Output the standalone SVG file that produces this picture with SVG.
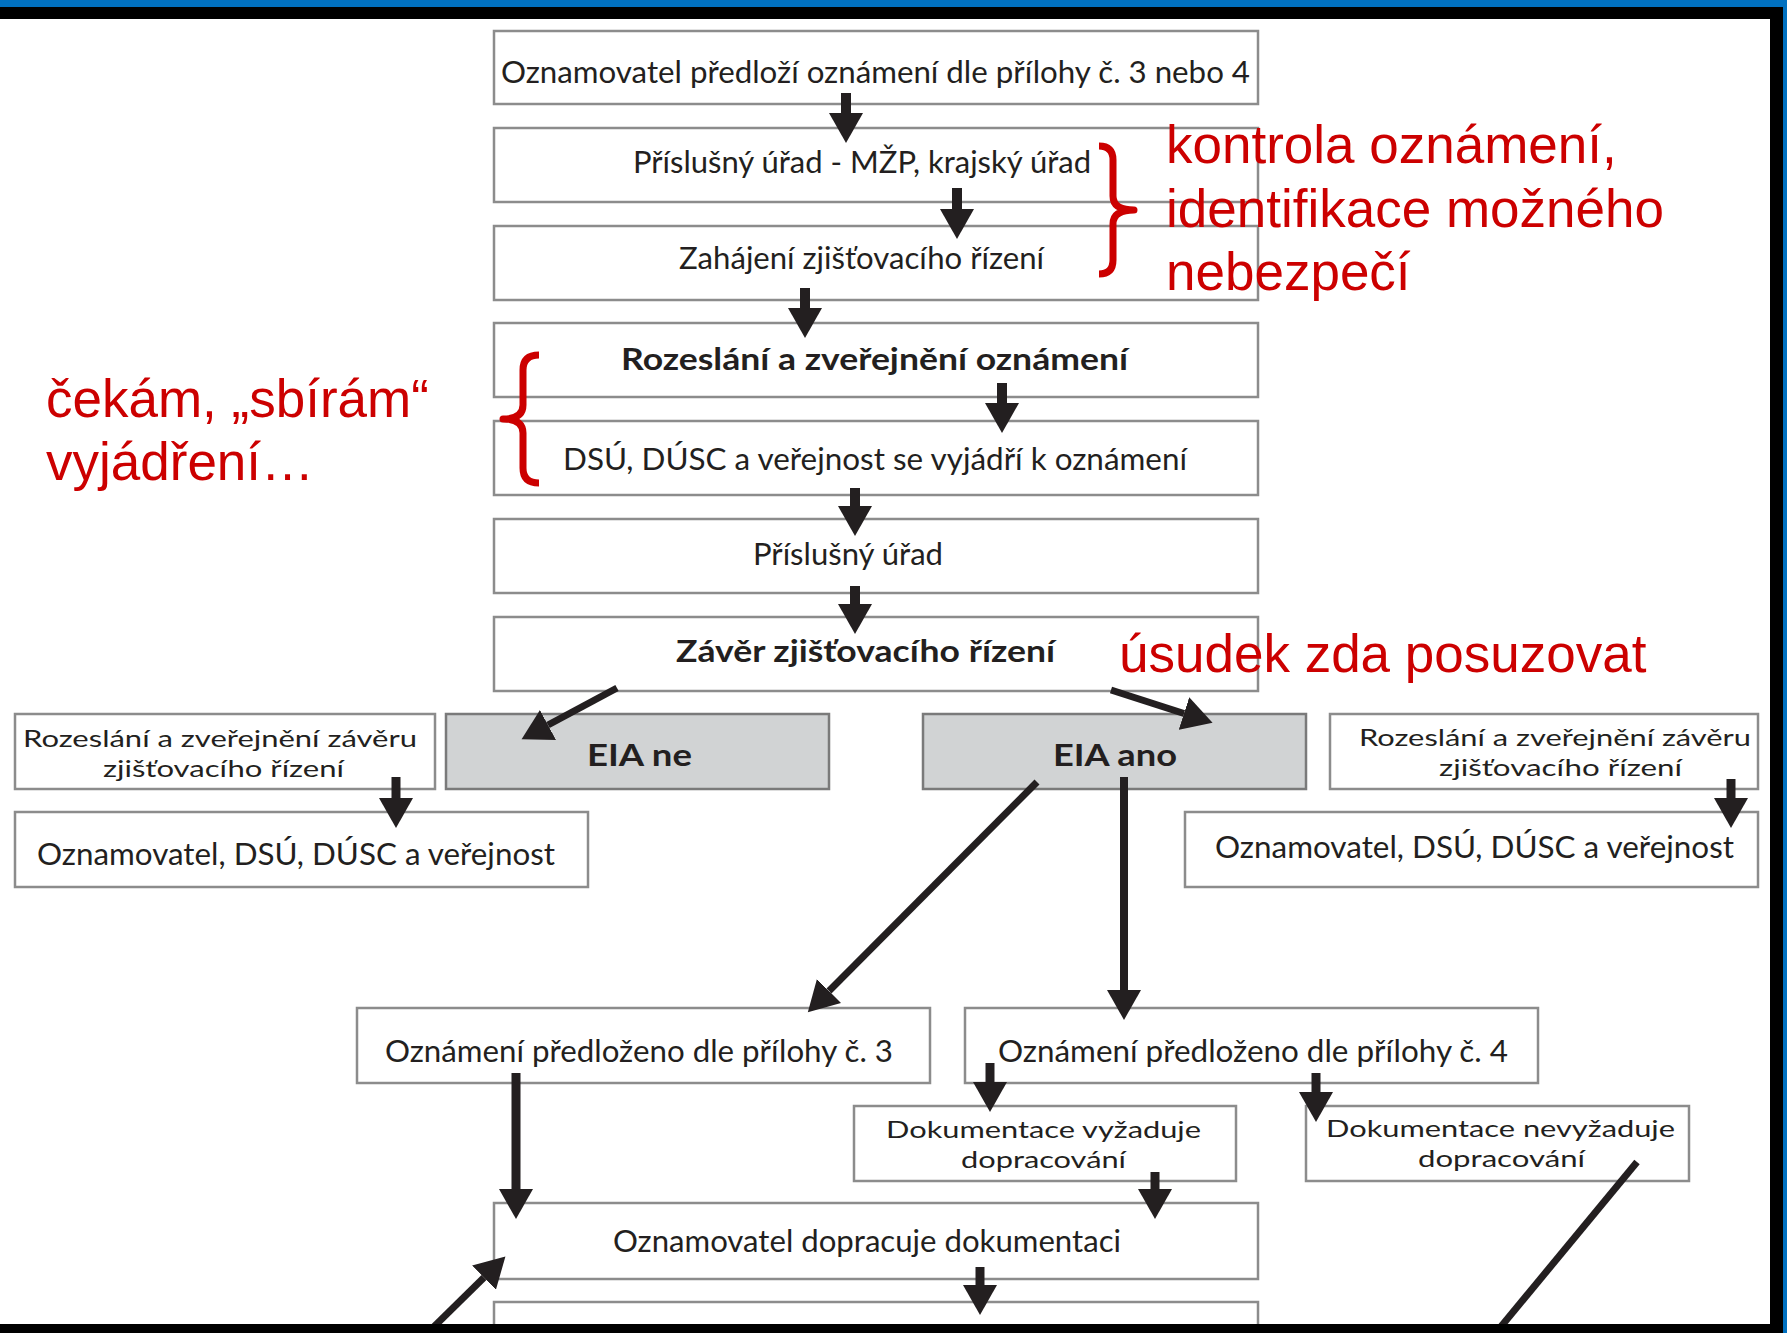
<svg xmlns="http://www.w3.org/2000/svg" width="1787" height="1333" viewBox="0 0 1787 1333">
<style>
.box{fill:#ffffff;stroke:#8c8c8c;stroke-width:2.5}
.grey{fill:#d1d3d4;stroke:#7a7a7a;stroke-width:2.5}
.t{font-family:Lato,"Open Sans","Liberation Sans",sans-serif;font-size:30px;fill:#231f20}
.t2{font-family:Lato,"Open Sans","Liberation Sans",sans-serif;font-size:24px;fill:#231f20}
.b{font-weight:bold}
.red{font-family:"Liberation Sans",Arial,sans-serif;font-size:53px;fill:#cc0000}
.brace{fill:none;stroke:#cc0000;stroke-width:7;stroke-linecap:butt;stroke-linejoin:round}
.ar{stroke:#231f20;fill:none;marker-end:url(#ah)}
</style>
<defs>
<marker id="ah" markerUnits="userSpaceOnUse" markerWidth="34" markerHeight="34" refX="0" refY="17" orient="auto">
<path d="M0,0 L30,17 L0,34 Z" fill="#231f20"/>
</marker>
</defs>
<rect x="0" y="0" width="1787" height="1333" fill="#ffffff"/>

<g id="n1"><rect class="box" x="494" y="31" width="764" height="73"/><text class="t" x="501" y="83" textLength="749" lengthAdjust="spacingAndGlyphs">Oznamovatel předloží oznámení dle přílohy č. 3 nebo 4</text></g>
<g id="n2"><rect class="box" x="494" y="128" width="764" height="74"/><text class="t" x="633" y="173" textLength="458" lengthAdjust="spacingAndGlyphs">Příslušný úřad - MŽP, krajský úřad</text></g>
<g id="n3"><rect class="box" x="494" y="226" width="764" height="74"/><text class="t" x="679" y="269" textLength="365" lengthAdjust="spacingAndGlyphs">Zahájení zjišťovacího řízení</text></g>
<g id="n4"><rect class="box" x="494" y="323" width="764" height="74"/><text class="t b" x="621" y="370" textLength="507" lengthAdjust="spacingAndGlyphs">Rozeslání a zveřejnění oznámení</text></g>
<g id="n5"><rect class="box" x="494" y="421" width="764" height="74"/><text class="t" x="563" y="470" textLength="624" lengthAdjust="spacingAndGlyphs">DSÚ, DÚSC a veřejnost se vyjádří k oznámení</text></g>
<g id="n6"><rect class="box" x="494" y="519" width="764" height="74"/><text class="t" x="753" y="565" textLength="190" lengthAdjust="spacingAndGlyphs">Příslušný úřad</text></g>
<g id="n7"><rect class="box" x="494" y="617" width="764" height="74"/><text class="t b" x="676" y="662" textLength="379" lengthAdjust="spacingAndGlyphs">Závěr zjišťovacího řízení</text></g>

<g id="n8"><rect class="box" x="15" y="714" width="420" height="75"/><text class="t2" x="23" y="747" textLength="394" lengthAdjust="spacingAndGlyphs">Rozeslání a zveřejnění závěru</text><text class="t2" x="103" y="777" textLength="241" lengthAdjust="spacingAndGlyphs">zjišťovacího řízení</text></g>
<g id="n9"><rect class="grey" x="446" y="714" width="383" height="75"/><text class="t b" x="587" y="766" textLength="105" lengthAdjust="spacingAndGlyphs">EIA ne</text></g>
<g id="n10"><rect class="grey" x="923" y="714" width="383" height="75"/><text class="t b" x="1053" y="766" textLength="124" lengthAdjust="spacingAndGlyphs">EIA ano</text></g>
<g id="n11"><rect class="box" x="1330" y="714" width="428" height="75"/><text class="t2" x="1359" y="746" textLength="392" lengthAdjust="spacingAndGlyphs">Rozeslání a zveřejnění závěru</text><text class="t2" x="1439" y="776" textLength="243" lengthAdjust="spacingAndGlyphs">zjišťovacího řízení</text></g>
<g id="n12"><rect class="box" x="15" y="812" width="573" height="75"/><text class="t" x="37" y="865" textLength="518" lengthAdjust="spacingAndGlyphs">Oznamovatel, DSÚ, DÚSC a veřejnost</text></g>
<g id="n13"><rect class="box" x="1185" y="812" width="573" height="75"/><text class="t" x="1215" y="858" textLength="519" lengthAdjust="spacingAndGlyphs">Oznamovatel, DSÚ, DÚSC a veřejnost</text></g>
<g id="n14"><rect class="box" x="357" y="1008" width="573" height="75"/><text class="t" x="385" y="1062" textLength="508" lengthAdjust="spacingAndGlyphs">Oznámení předloženo dle přílohy č. 3</text></g>
<g id="n15"><rect class="box" x="965" y="1008" width="573" height="75"/><text class="t" x="998" y="1062" textLength="510" lengthAdjust="spacingAndGlyphs">Oznámení předloženo dle přílohy č. 4</text></g>
<g id="n16"><rect class="box" x="854" y="1106" width="382" height="75"/><text class="t2" x="886" y="1138" textLength="315" lengthAdjust="spacingAndGlyphs">Dokumentace vyžaduje</text><text class="t2" x="961" y="1168" textLength="165" lengthAdjust="spacingAndGlyphs">dopracování</text></g>
<g id="n17"><rect class="box" x="1306" y="1106" width="383" height="75"/><text class="t2" x="1326" y="1137" textLength="349" lengthAdjust="spacingAndGlyphs">Dokumentace nevyžaduje</text><text class="t2" x="1418" y="1167" textLength="167" lengthAdjust="spacingAndGlyphs">dopracování</text></g>
<g id="n18"><rect class="box" x="494" y="1203" width="764" height="76"/><text class="t" x="613" y="1252" textLength="508" lengthAdjust="spacingAndGlyphs">Oznamovatel dopracuje dokumentaci</text></g>
<g id="n19"><rect class="box" x="494" y="1302" width="764" height="60"/></g>

<g id="connectors">
<line class="ar" x1="846" y1="93" x2="846" y2="113" stroke-width="10"/>
<line class="ar" x1="957" y1="188" x2="957" y2="209" stroke-width="10"/>
<line class="ar" x1="805" y1="288" x2="805" y2="308" stroke-width="10"/>
<line class="ar" x1="1002" y1="383" x2="1002" y2="403" stroke-width="10"/>
<line class="ar" x1="855" y1="488" x2="855" y2="506" stroke-width="10"/>
<line class="ar" x1="855" y1="586" x2="855" y2="604" stroke-width="10"/>
<line class="ar" x1="396" y1="777" x2="396" y2="798" stroke-width="9"/>
<line class="ar" x1="1731" y1="779" x2="1731" y2="798" stroke-width="9"/>
<line class="ar" x1="1124" y1="777" x2="1124" y2="990" stroke-width="8"/>
<line class="ar" x1="516" y1="1073" x2="516" y2="1189" stroke-width="9"/>
<line class="ar" x1="990" y1="1063" x2="990" y2="1082" stroke-width="9"/>
<line class="ar" x1="1316" y1="1073" x2="1316" y2="1092" stroke-width="9"/>
<line class="ar" x1="1155" y1="1172" x2="1155" y2="1189" stroke-width="9"/>
<line class="ar" x1="980" y1="1267" x2="980" y2="1285" stroke-width="9"/>
<line class="ar" x1="617" y1="688" x2="548" y2="725" stroke-width="7"/>
<line class="ar" x1="1111" y1="690" x2="1184" y2="713.5" stroke-width="7"/>
<line class="ar" x1="1037" y1="782" x2="829" y2="991" stroke-width="7"/>
<line class="ar" x1="400" y1="1360" x2="484" y2="1277.6" stroke-width="7"/>
<line x1="1637" y1="1162" x2="1480" y2="1352" stroke="#231f20" stroke-width="7"/>
</g>

<g id="annotations">
<path class="brace" d="M1099,146 Q1113,146 1113,160 L1113,196 Q1113,210 1134,210 Q1113,210 1113,224 L1113,260 Q1113,274 1099,274"/>
<path class="brace" d="M539,355 Q523,355 523,370 L523,405 Q523,419 503,419 Q523,419 523,433 L523,468 Q523,483 539,483"/>
<text class="red" x="1166" y="163">kontrola oznámení,</text>
<text class="red" x="1166" y="227">identifikace možného</text>
<text class="red" x="1166" y="290">nebezpečí</text>
<text class="red" x="46" y="417">čekám, „sbírám“</text>
<text class="red" x="46" y="480">vyjádření…</text>
<text class="red" x="1119" y="672">úsudek zda posuzovat</text>
</g>

<g id="frame">
<rect x="0" y="0" width="1787" height="7" fill="#0070c0"/>
<rect x="0" y="7" width="1783" height="12" fill="#000000"/>
<rect x="1770" y="7" width="13" height="1326" fill="#000000"/>
<rect x="1783" y="0" width="4" height="1333" fill="#0070c0"/>
<rect x="0" y="1324" width="1783" height="9" fill="#000000"/>
</g>
</svg>
